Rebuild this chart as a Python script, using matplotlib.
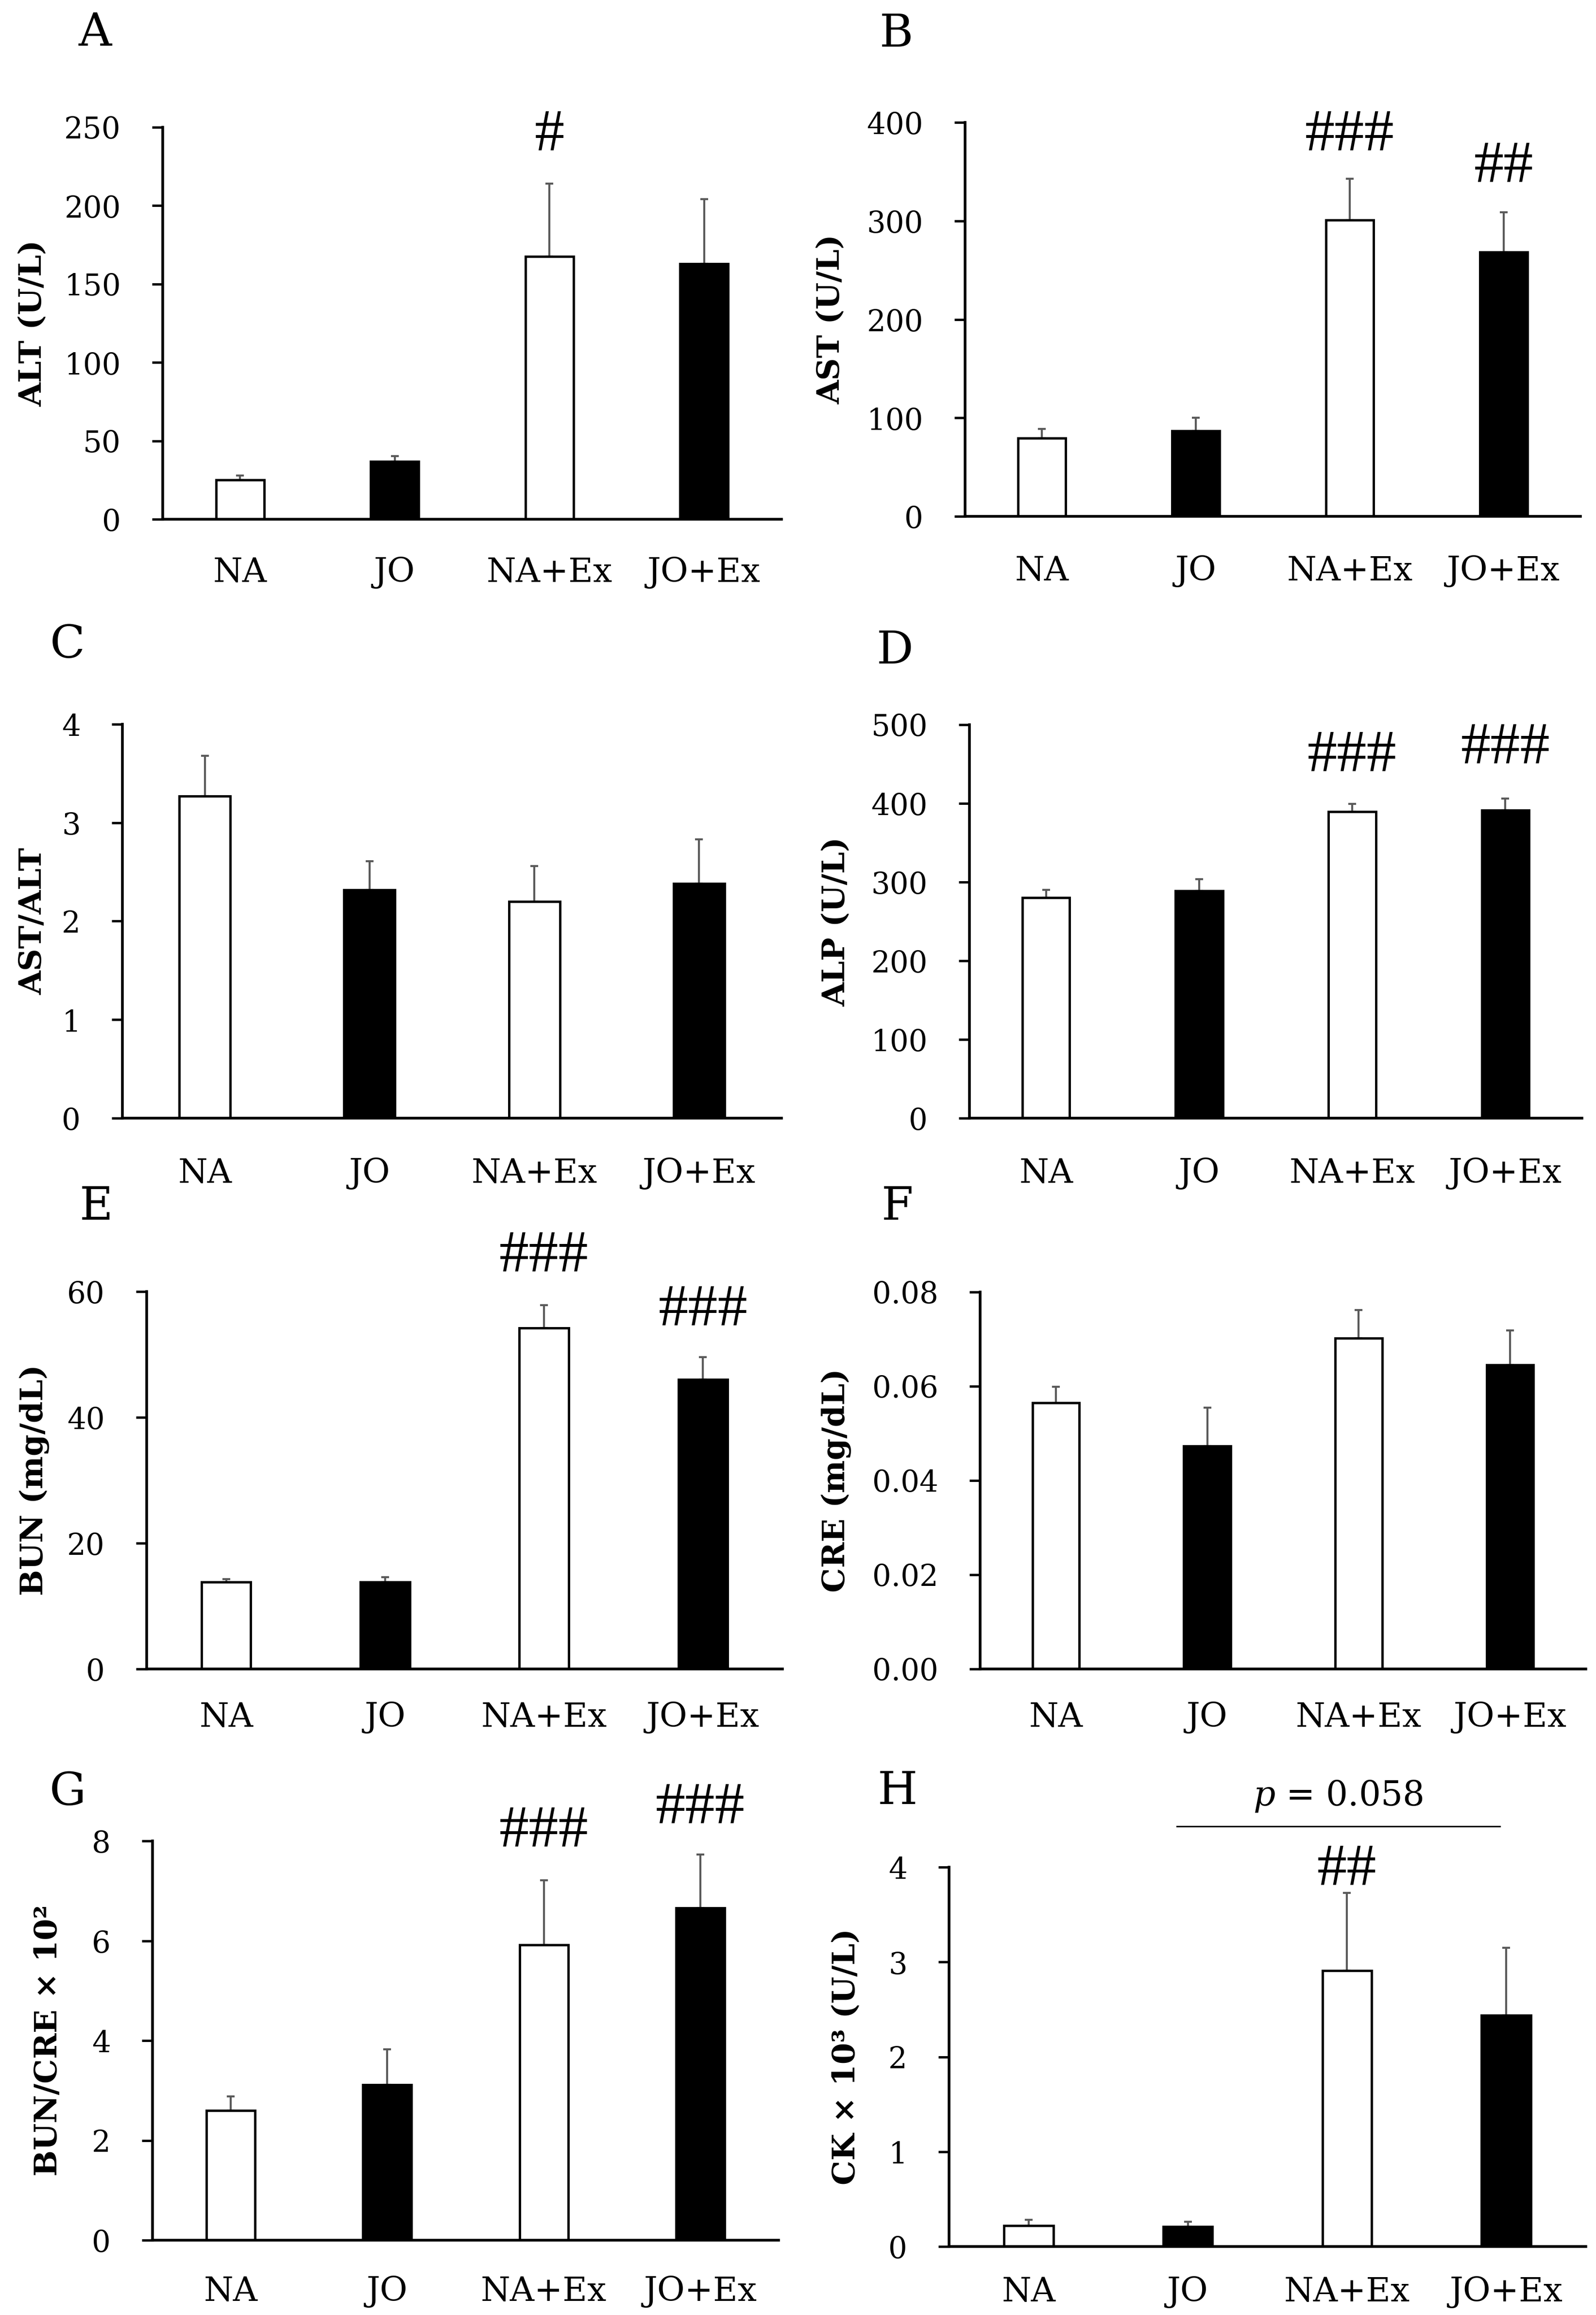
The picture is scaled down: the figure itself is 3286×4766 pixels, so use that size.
import matplotlib
matplotlib.use('Agg')
import matplotlib.pyplot as plt
import numpy as np

plt.rcParams['font.family'] = ['DejaVu Serif']
plt.rcParams['mathtext.fontset'] = 'dejavuserif'

# ---------------- data ----------------
groups = ['NA', 'JO', 'NA+Ex', 'JO+Ex']
bar_fills = ['white', 'black', 'white', 'black']

alt_mean = [25.1, 36.9, 167.6, 162.9]
alt_err = [2.8, 3.3, 46.4, 41.4]
alt_ticks = [0, 50, 100, 150, 200, 250]

ast_mean = [79.2, 86.8, 300.8, 268.3]
ast_err = [9.5, 13.2, 41.8, 40.4]
ast_ticks = [0, 100, 200, 300, 400]

ratio_mean = [3.27, 2.32, 2.20, 2.38]
ratio_err = [0.41, 0.29, 0.36, 0.45]
ratio_ticks = [0, 1, 2, 3, 4]

alp_mean = [280.2, 288.7, 389.4, 391.3]
alp_err = [10.0, 15.2, 9.9, 15.1]
alp_ticks = [0, 100, 200, 300, 400, 500]

bun_mean = [13.8, 13.8, 54.2, 46.0]
bun_err = [0.5, 0.8, 3.6, 3.6]
bun_ticks = [0, 20, 40, 60]

cre_mean = [0.0565, 0.0473, 0.0702, 0.0645]
cre_err = [0.0034, 0.0082, 0.0060, 0.0074]
cre_ticks = [0.00, 0.02, 0.04, 0.06, 0.08]

bc_mean = [2.60, 3.11, 5.92, 6.66]
bc_err = [0.28, 0.71, 1.29, 1.07]
bc_ticks = [0, 2, 4, 6, 8]

ck_mean = [0.22, 0.21, 2.91, 2.44]
ck_err = [0.06, 0.05, 0.82, 0.71]
ck_ticks = [0, 1, 2, 3, 4]

# significance marks: (group index, text, y in data units)
alt_sig = [(2, '#', 244.7)]
ast_sig = [(2, '###', 386.7), (3, '##', 354.6)]
alp_sig = [(2, '###', 460.0), (3, '###', 470.0)]
bun_sig = [(2, '###', 65.6), (3, '###', 57.0)]
bc_sig = [(2, '###', 8.19), (3, '###', 8.65)]
ck_sig = [(2, '##', 3.97)]

ck_p_text = r'$\mathit{p}$ = 0.058'
ck_p_span = (0.93, 2.96)
ck_p_line_y = 4.43
ck_p_text_y = 4.75

panels = [
    dict(letter='A', ylabel='ALT (U/L)', mean=alt_mean, err=alt_err, ticks=alt_ticks, fmt='{:.0f}', sig=alt_sig),
    dict(letter='B', ylabel='AST (U/L)', mean=ast_mean, err=ast_err, ticks=ast_ticks, fmt='{:.0f}', sig=ast_sig),
    dict(letter='C', ylabel='AST/ALT', mean=ratio_mean, err=ratio_err, ticks=ratio_ticks, fmt='{:.0f}', sig=[]),
    dict(letter='D', ylabel='ALP (U/L)', mean=alp_mean, err=alp_err, ticks=alp_ticks, fmt='{:.0f}', sig=alp_sig),
    dict(letter='E', ylabel='BUN (mg/dL)', mean=bun_mean, err=bun_err, ticks=bun_ticks, fmt='{:.0f}', sig=bun_sig),
    dict(letter='F', ylabel='CRE (mg/dL)', mean=cre_mean, err=cre_err, ticks=cre_ticks, fmt='{:.2f}', sig=[]),
    dict(letter='G', ylabel='BUN/CRE × 10²', mean=bc_mean, err=bc_err, ticks=bc_ticks, fmt='{:.0f}', sig=bc_sig),
    dict(letter='H', ylabel='CK × 10³ (U/L)', mean=ck_mean, err=ck_err, ticks=ck_ticks, fmt='{:.0f}', sig=ck_sig),
]

# ---------------- layout (pixels) ----------------
W, H = 3286, 4766
# left, right, top, bottom of axes ; ylabel x ; letter (x, y) ; xtick pad (pt)
layout = [
    (335, 1609, 262, 1069, 68, (196, 68), 55),
    (1987, 3254, 252, 1063, 1711, (1845, 70), 57),
    (252, 1609, 1491, 2302, 68, (139, 1328), 58),
    (1996, 3257, 1492, 2302, 1722, (1843, 1340), 58),
    (302, 1611, 2659, 3436, 71, (198, 2485), 48),
    (2018, 3265, 2660, 3436, 1722, (1848, 2485), 48),
    (314, 1603, 3790, 4612, 100, (139, 3690), 52),
    (1954, 3265, 3844, 4625, 1743, (1848, 3688), 44),
]

fig = plt.figure(figsize=(W / 100, H / 100), dpi=100)
x = np.arange(len(groups))

for p, (l, r, t, b, ylx, (lx, ly), xpad) in zip(panels, layout):
    ax = fig.add_axes([l / W, 1 - b / H, (r - l) / W, (b - t) / H])
    ax.bar(x, p['mean'], width=0.31, color=bar_fills, edgecolor='black',
           linewidth=3.5, zorder=2)
    ax.errorbar(x, p['mean'], yerr=[np.zeros(len(x)), p['err']], fmt='none',
                ecolor='#5a5a5a', elinewidth=3, capsize=6, capthick=3, zorder=1)
    ax.set_xlim(-0.5, 3.5)
    ax.set_ylim(p['ticks'][0], p['ticks'][-1])
    ax.set_yticks(p['ticks'])
    ax.set_yticklabels([p['fmt'].format(v) for v in p['ticks']])
    ax.set_xticks(x)
    ax.set_xticklabels(groups)
    for s in ['top', 'right']:
        ax.spines[s].set_visible(False)
    for s in ['left', 'bottom']:
        ax.spines[s].set_linewidth(4)
    ax.tick_params(axis='y', direction='out', length=16, width=3.5,
                   labelsize=44, pad=46)
    ax.tick_params(axis='x', length=0, labelsize=50, pad=xpad)
    ax.set_ylabel(p['ylabel'], fontsize=46, fontweight='bold')
    ax.yaxis.label.set_va('center')
    ax.yaxis.label.set_ha('center')
    ax.yaxis.set_label_coords((ylx - l) / (r - l), 0.5)
    for gi, txt, yv in p['sig']:
        ax.text(x[gi], yv, txt, ha='center', va='center', fontsize=88,
                family='Liberation Serif', clip_on=False)
    fig.text(lx / W, 1 - ly / H, p['letter'], fontsize=68, ha='center', va='center')
    if p['letter'] == 'H':
        ax.plot(list(ck_p_span), [ck_p_line_y, ck_p_line_y], color='black',
                lw=2.2, clip_on=False)
        ax.text(sum(ck_p_span) / 2, ck_p_text_y, ck_p_text, fontsize=51,
                ha='center', va='center', clip_on=False)

fig.savefig('out.png', dpi=100, facecolor='white')
